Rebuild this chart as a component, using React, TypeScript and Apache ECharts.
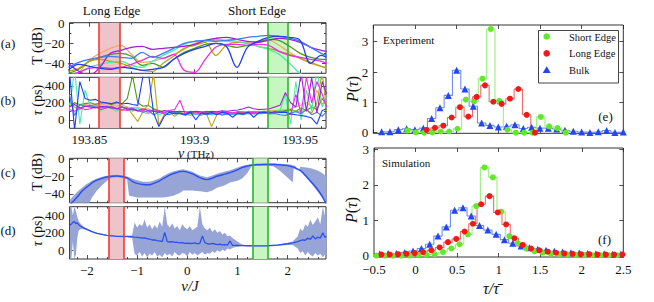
import React, { useEffect, useRef } from "react";
import * as echarts from "echarts";

const FONT = '"Liberation Serif","Times New Roman",serif';

// ---------- (a) transmission vs frequency ----------
const freqA = [193.84, 193.845, 193.85, 193.855, 193.86, 193.865, 193.87, 193.875, 193.88, 193.885, 193.89, 193.895, 193.9, 193.905, 193.91, 193.915, 193.92, 193.925, 193.93, 193.935, 193.94, 193.945, 193.95, 193.955, 193.96, 193.9626];
const tOrange = [-52, -49, -37, -30, -25, -22, -31, -39, -38, -35, -31, -26, -20, -18, -17, -18, -19, -19, -18, -17, -22, -29, -35, -40, -43, -44];
const tGreen = [-50, -46, -38, -34, -31, -30, -33, -42, -40, -44, -36, -29, -25, -21, -20, -22, -24, -22, -19, -16, -17, -23, -30, -34, -36, -36];
const tOlive = [-48, -45, -38, -36, -38, -40, -44, -47, -48, -40, -33, -25, -22, -19, -32, -22, -19, -20, -23, -25, -28, -31, -35, -39, -43, -45];
const tBlue = [-47, -41, -43, -45, -46, -44, -45, -47, -46, -44, -36, -30, -26, -23, -20, -23, -44, -24, -18, -14, -13, -14, -17, -40, -32, -34];
const tSky = [-44, -39, -36, -34, -33, -34, -35, -29, -34, -30, -25, -20, -18, -17, -18, -17, -16, -14, -13, -12, -13, -15, -18, -24, -30, -32];
const tMagenta = [-52, -49, -45, -44, -45, -44, -41, -37, -33, -35, -31, -47, -49, -36, -24, -21, -21, -22, -21, -22, -28, -32, -34, -36, -38, -40];
const tAqua = [-52, -49, -44, -41, -39, -38, -42, -44, -38, -32, -27, -21, -18, -17, -16, -17, -18, -20, -23, -26, -31, -40, -50, -53, -53, -53];
const tPurple = [-40, -48, -52, -44, -30, -27, -24, -23, -26, -25, -24, -23, -21, -17, -15, -14, -16, -18, -19, -17, -15, -16, -19, -24, -27, -28];

// ---------- (b) delay vs frequency ----------
const freqB = [193.8405, 193.843, 193.8455, 193.848, 193.8505, 193.853, 193.8555, 193.858, 193.8605, 193.863, 193.8655, 193.868, 193.8705, 193.873, 193.8755, 193.878, 193.8805, 193.883, 193.8855, 193.888, 193.8905, 193.893, 193.8955, 193.898, 193.9005, 193.903, 193.9055, 193.908, 193.9105, 193.913, 193.9155, 193.918, 193.9205, 193.923, 193.9255, 193.928, 193.9305, 193.933, 193.9355, 193.938, 193.9405, 193.943, 193.9455, 193.948, 193.9505, 193.953, 193.9555, 193.958, 193.9605, 193.9626];
const tauOrange = [180, 200, 170, 180, 170, 190, 180, 170, 180, 160, 175, 150, 140, 150, 120, 130, 100, 110, 90, 95, 85, 90, 80, 85, 90, 80, 85, 90, 85, 80, 90, 85, 90, 95, 90, 100, 95, 100, 105, 110, 115, 120, 130, 150, 170, 200, 160, 350, 180, 200];
const tauGreen = [150, 200, 180, 190, 200, 180, 200, 195, 180, 200, 190, 250, 520, 200, 160, 170, 130, 110, 90, 80, 100, 80, 70, 90, 80, 70, 85, 75, 80, 70, 85, 80, 90, 85, 80, 90, 95, 85, 100, 90, 95, 110, 120, 100, 140, 110, 150, 120, 250, 170];
const tauOlive = [200, 150, 120, 160, 150, 170, 150, 140, 160, 130, 110, 150, 60, -20, 100, 180, 540, -60, 60, 90, 40, 80, 60, 70, 90, 50, 80, -80, 60, 90, 80, 70, 90, 80, 100, 90, 95, 100, 90, 100, 105, 95, 110, 100, 90, 120, 80, 200, 560, 100];
const tauSky = [300, 50, 180, 160, 170, 150, 140, 160, 150, 130, 150, 120, 140, 110, 90, 110, 60, 90, 70, 60, 90, 70, 55, 80, 65, 75, 60, 70, 80, 55, 70, 65, 75, 60, 80, 70, 75, 80, 70, 75, 60, 50, 80, 95, 70, 120, 60, 90, 40, 100];
const tauMagenta = [120, 100, 140, 120, 130, 150, 120, 140, 160, 130, 120, 110, 130, 100, 110, 90, 120, 100, 80, 110, 120, 230, 70, 100, 90, 80, 100, 90, 80, 85, 90, 80, 95, 90, 85, 90, 80, 85, 90, 80, 100, 90, 60, 300, 80, 500, 200, 450, 300, 150];
const tauAqua = [100, 600, -50, 350, 150, 170, 110, 150, 130, 100, 160, 120, 100, 140, 90, 70, 110, 60, 80, 90, 70, 80, 65, 50, 75, 70, 80, 60, 70, 75, 65, 70, 60, 75, 70, 80, 70, 75, 90, 100, 110, 300, -50, 450, 0, 350, 100, 600, 150, 300];
const tauPurple = [150, 180, 140, 160, 150, 140, 160, 150, 140, 130, 150, 130, 120, 110, 130, 110, 100, 90, 110, 100, 95, 100, 95, 90, 100, 95, 90, 100, 95, 105, 100, 110, 115, 130, 150, 130, 120, 125, 130, 150, 170, 320, 200, 150, 550, 100, 500, 80, 450, 300];
const tauBlue = [600, -120, 450, 250, 230, 240, 210, 200, 190, 210, 185, 195, 180, 170, 520, 560, 80, -80, 40, 90, 70, 80, 60, 90, 0, 80, 70, 85, 60, 90, 75, 30, 80, 70, 90, 30, 85, 90, 80, 95, 85, 90, 70, 60, 50, 40, 20, -50, 110, 130];

// ---------- (c) simulated transmission vs nu/J ----------
const nuC = [-2.34, -2.3, -2.2, -2.1, -2.0, -1.95, -1.9, -1.8, -1.7, -1.6, -1.5, -1.4, -1.3, -1.2, -1.16, -1.08, -1.0, -0.88, -0.75, -0.68, -0.55, -0.48, -0.35, -0.28, -0.15, -0.08, 0.09, 0.25, 0.39, 0.5, 0.59, 0.75, 0.85, 1.0, 1.1, 1.2, 1.25, 1.28, 1.38, 1.5, 1.6, 1.71, 1.75, 1.85, 1.95, 2.05, 2.1, 2.12, 2.15, 2.22, 2.25, 2.28, 2.38, 2.48, 2.58, 2.68, 2.77];
const cMean = [-53, -50, -44, -37, -32, -30, -27.5, -24.4, -22.3, -20.7, -19.9, -19.6, -20.2, -21.8, -23, -26.3, -28, -29.3, -29.5, -28.2, -25, -22.5, -18.5, -16.9, -14.6, -14.3, -16.9, -21.4, -23.7, -22, -19.9, -17.5, -15.8, -12.5, -9.8, -8.2, -7.6, -7.3, -6.8, -6.5, -6.4, -6.4, -6.5, -6.9, -7.4, -8.4, -9.2, -9.6, -10.3, -12.2, -13.2, -14.5, -20.7, -27, -33.8, -42, -52];
const cUpper = [-47, -44, -38, -33, -28.5, -27, -25, -22.5, -20.5, -19.2, -18.5, -18.2, -18.8, -20.2, -21, -23, -24.5, -26, -26, -25, -22, -19.5, -16, -14.5, -12.5, -12, -14.5, -19, -21, -19, -17, -14.5, -13, -10, -8, -6.8, -6.2, -5.8, -5.4, -5.2, -5.1, -5.1, -5.2, -5.5, -5.9, -6.6, -7.2, -7.5, -8, -14, -9, -9.3, -10, -11, -13, -16, -20];
const cLower = [-55, -55, -55, -55, -55, -55, -44, -36, -30, -25, -21.5, -21, -21.8, -23.5, -42, -43, -44, -44, -44, -44, -44, -44, -43, -42, -39, -36, -36, -37, -38, -36, -33, -30, -27, -25, -22, -16, -11, -8.5, -8, -7.8, -7.8, -8.5, -10, -14, -19, -24, -27, -11, -11.8, -13.5, -14.5, -16, -22, -29, -36, -44, -54];

// ---------- (d) simulated delay vs nu/J ----------
const nuD = [-2.34, -2.31, -2.28, -2.25, -2.22, -2.19, -2.16, -2.12, -2.06, -2.0, -1.9, -1.8, -1.6, -1.4, -1.2, -1.1,
  -1.05, -1.0, -0.95, -0.9, -0.85, -0.8, -0.75, -0.7, -0.65, -0.6, -0.55, -0.5, -0.45, -0.4, -0.35, -0.3, -0.25, -0.2, -0.15, -0.1, -0.05, 0, 0.05, 0.1, 0.15, 0.2, 0.25, 0.3, 0.35, 0.4, 0.45, 0.5, 0.55, 0.6, 0.65, 0.7, 0.75, 0.8, 0.85, 0.9, 0.95, 1.0, 1.05, 1.1,
  1.2, 1.4, 1.6, 1.8, 2.0, 2.1, 2.2, 2.25, 2.3, 2.35, 2.4, 2.45, 2.5, 2.55, 2.6, 2.65, 2.7, 2.74, 2.77];
const dMean = [290, 300, 320, 330, 305, 315, 290, 275, 255, 240, 215, 195, 170, 160, 158, 155,
  150, 148, 145, 140, 142, 135, 128, 118, 120, 112, 108, 100, 205, 100, 95, 98, 90, 92, 85, 88, 80, 82, 78, 80, 86, 75, 80, 165, 88, 75, 70, 78, 72, 65, 70, 62, 66, 60, 105, 58, 56, 55, 54, 53,
  52, 50, 52, 60, 75, 85, 100, 110, 120, 115, 140, 125, 165, 130, 150, 140, 200, 150, 160];
const dUpper = [520, 520, 400, 520, 450, 380, 330, 300, 270, 250, 222, 200, 175, 165, 163, 170,
  320, 260, 300, 280, 350, 260, 300, 240, 290, 250, 330, 270, 520, 300, 260, 310, 250, 280, 230, 300, 260, 240, 280, 230, 250, 270, 520, 300, 250, 230, 260, 210, 240, 200, 220, 180, 200, 160, 170, 140, 120, 100, 80, 65,
  58, 55, 57, 66, 85, 100, 160, 250, 220, 300, 270, 350, 290, 330, 380, 300, 520, 400, 520];
const dLower = [-110, -110, 100, -110, -50, 150, 230, 245, 240, 230, 208, 190, 165, 155, 152, 140,
  -40, -60, -20, -70, -30, -80, -40, -60, -20, -70, -50, -80, -30, -60, -40, -70, -20, -50, -60, -30, -40, -70, -20, -50, -30, -60, -40, -20, -50, -30, -40, -10, -30, 0, -20, 10, -10, 20, 10, 25, 35, 40, 45, 48,
  47, 45, 47, 52, 62, 60, 20, -30, -10, -60, -20, -50, -70, -30, -60, -40, -80, -50, -70];

// ---------- edge windows ----------
const longEdgeTHz = [193.8547, 193.8646];
const shortEdgeTHz = [193.9347, 193.9443];
const longEdgeNu = [-1.56, -1.26];
const shortEdgeNu = [1.31, 1.61];

// ---------- (e) experiment histograms ----------
const expBulkX = [-0.4, -0.3, -0.2, -0.1, 0, 0.1, 0.2, 0.3, 0.4, 0.5, 0.6, 0.7, 0.8, 0.9, 1.0, 1.1, 1.2, 1.3, 1.4, 1.5, 1.6, 1.7, 1.8, 1.9, 2.0, 2.1, 2.2, 2.3, 2.4, 2.5];
const expBulkY = [0.03, 0.03, 0.1, 0.13, 0.1, 0.15, 0.47, 0.82, 1.23, 2.06, 1.44, 0.87, 0.32, 0.24, 0.19, 0.21, 0.26, 0.14, 0.18, 0.15, 0.15, 0.12, 0.08, 0.05, 0.02, 0.01, 0.03, 0.07, 0.01, 0.02];
const expLongX = [0.14, 0.24, 0.34, 0.44, 0.54, 0.64, 0.74, 0.84, 0.94, 1.04, 1.14, 1.24, 1.34, 1.44];
const expLongY = [0.09, 0.16, 0.23, 0.5, 0.84, 0.53, 1.18, 1.56, 1.02, 0.95, 1.12, 1.44, 0.59, 0];
const expShortX = [-0.09, 0.01, 0.11, 0.21, 0.31, 0.41, 0.51, 0.61, 0.71, 0.81, 0.91, 1.01, 1.11, 1.21, 1.31, 1.41, 1.51, 1.61, 1.71, 1.81];
const expShortY = [0.07, 0.01, 0, 0.01, 0.04, 0.04, 0.13, 1.09, 1.03, 1.78, 3.42, 1.05, 0.1, 0, 0, 0, 0.52, 0.21, 0.15, 0];

// ---------- (f) simulation histograms ----------
const simBulkX = [-0.43, -0.33, -0.23, -0.13, -0.03, 0.07, 0.17, 0.27, 0.37, 0.47, 0.57, 0.67, 0.77, 0.87, 0.97, 1.07, 1.17, 1.27, 1.37, 1.47, 1.57, 1.67, 1.77, 1.87, 1.97, 2.07, 2.17, 2.27, 2.37, 2.47];
const simBulkY = [0.05, 0.06, 0.06, 0.09, 0.13, 0.2, 0.32, 0.55, 0.81, 1.28, 1.35, 1.12, 0.85, 0.72, 0.6, 0.45, 0.35, 0.27, 0.22, 0.18, 0.15, 0.12, 0.1, 0.08, 0.07, 0.06, 0.05, 0.05, 0.04, 0.04];
const simLongX = [-0.41, -0.31, -0.21, -0.11, -0.01, 0.09, 0.19, 0.29, 0.39, 0.49, 0.59, 0.69, 0.79, 0.89, 0.99, 1.09, 1.19, 1.29, 1.39, 1.49, 1.59, 1.69, 1.79, 1.89, 1.99, 2.09, 2.19, 2.29, 2.39, 2.49];
const simLongY = [0.03, 0.03, 0.04, 0.05, 0.07, 0.1, 0.15, 0.23, 0.38, 0.47, 0.68, 0.9, 1.45, 1.68, 1.22, 0.88, 0.49, 0.3, 0.2, 0.15, 0.11, 0.08, 0.06, 0.05, 0.04, 0.04, 0.03, 0.03, 0.03, 0.03];
const simShortX = [-0.47, -0.37, -0.27, -0.17, -0.07, 0.03, 0.13, 0.23, 0.33, 0.43, 0.53, 0.63, 0.73, 0.83, 0.93, 1.03, 1.13, 1.23, 1.33, 1.43, 1.53, 1.63, 1.73, 1.83, 1.93, 2.03, 2.13, 2.23, 2.33, 2.43];
const simShortY = [0, 0, 0, 0, 0, 0.01, 0.02, 0.04, 0.1, 0.2, 0.32, 0.6, 1.4, 2.49, 2.21, 1.24, 0.55, 0.35, 0.2, 0.12, 0.08, 0.05, 0.04, 0.03, 0.02, 0.02, 0.01, 0.01, 0.01, 0.01];

// ---------- tick values ----------
const thzMajor = [193.85, 193.9, 193.95];
const thzMinor = [193.84, 193.86, 193.87, 193.88, 193.89, 193.91, 193.92, 193.93, 193.94, 193.96];
const nuMajor = [-2, -1, 0, 1, 2];
const nuMinor = [-2.2, -1.8, -1.6, -1.4, -1.2, -0.8, -0.6, -0.4, -0.2, 0.2, 0.4, 0.6, 0.8, 1.2, 1.4, 1.6, 1.8, 2.2, 2.4, 2.6];
const dbMajor = [0, -20, -40];
const dbMinor = [-10, -30];
const psMajor = [0, 200, 400];
const psMinor = [100, 300];
const ratioMajor = [-0.5, 0, 0.5, 1, 1.5, 2, 2.5];
const probMajor = [0, 1, 2, 3];

const C = {
  orange: "#f5a86a", green: "#4e9a1c", olive: "#b5a516", blue: "#1f3ff0",
  sky: "#3f7cf5", magenta: "#ee2be8", aqua: "#45eda5", purple: "#9d22d6",
};

function fmtNum(v: number): string {
  const r = Math.round(v * 1000) / 1000;
  const s = String(Math.abs(r));
  return r < 0 ? "\u2212" + s : s;
}

function buildOption() {
  const gridBoxes = [
    { left: 69.5, top: 22.7, width: 256.5, height: 50.6 },
    { left: 69.5, top: 77.3, width: 256.5, height: 51 },
    { left: 69.5, top: 158.3, width: 256.5, height: 44.4 },
    { left: 69.5, top: 206.7, width: 256.5, height: 52.3 },
    { left: 373.3, top: 25, width: 250, height: 108.3 },
    { left: 374, top: 148, width: 249.3, height: 109 },
  ];
  const grid = gridBoxes.map((g) => ({
    ...g, show: true, borderColor: "#333", borderWidth: 1, backgroundColor: "transparent",
    containLabel: false, outerBoundsMode: "none",
  }));

  const xAxis: any[] = [];
  const yAxis: any[] = [];
  const tick = (vals: number[], len: number) => ({
    show: true, inside: true, length: len, customValues: vals,
    lineStyle: { color: "#222", width: 0.8 },
  });
  const label = (vals: number[], margin: number) => ({
    show: true, customValues: vals, formatter: (v: number) => fmtNum(v),
    showMinLabel: true, showMaxLabel: true, hideOverlap: false,
    fontFamily: FONT, fontSize: 13, color: "#111", margin,
  });

  function frame(gi: number, xr: number[], yr: number[], xMaj: number[], xMin: number[], yMaj: number[], yMin: number[], xLab: boolean, xMargin = 5) {
    const base = (min: number, max: number) => ({
      type: "value", gridIndex: gi, min, max, splitLine: { show: false },
      axisLine: { show: false, onZero: false },
    });
    const xi = xAxis.length;
    xAxis.push({ ...base(xr[0], xr[1]), position: "bottom", axisTick: tick(xMaj, 4), axisLabel: xLab ? label(xMaj, xMargin) : { show: false } });
    xAxis.push({ ...base(xr[0], xr[1]), position: "top", axisTick: tick(xMaj, 4), axisLabel: { show: false } });
    if (xMin.length) {
      xAxis.push({ ...base(xr[0], xr[1]), position: "bottom", axisTick: tick(xMin, 2), axisLabel: { show: false } });
      xAxis.push({ ...base(xr[0], xr[1]), position: "top", axisTick: tick(xMin, 2), axisLabel: { show: false } });
    }
    const yi = yAxis.length;
    yAxis.push({ ...base(yr[0], yr[1]), position: "left", axisTick: tick(yMaj, 4), axisLabel: label(yMaj, 5) });
    yAxis.push({ ...base(yr[0], yr[1]), position: "right", axisTick: tick(yMaj, 4), axisLabel: { show: false } });
    if (yMin.length) {
      yAxis.push({ ...base(yr[0], yr[1]), position: "left", axisTick: tick(yMin, 2), axisLabel: { show: false } });
      yAxis.push({ ...base(yr[0], yr[1]), position: "right", axisTick: tick(yMin, 2), axisLabel: { show: false } });
    }
    return [xi, yi];
  }

  const thzRange = [193.8406, 193.9623];
  const nuRange = [-2.347, 2.763];
  const dbRange = [-50, 0.6];
  const psRange = [-100, 500];
  const ratioRange = [-0.5, 2.5];

  const [xa, ya] = frame(0, thzRange, dbRange, thzMajor, thzMinor, dbMajor, dbMinor, false);
  const [xb, yb] = frame(1, thzRange, psRange, thzMajor, thzMinor, psMajor, psMinor, true);
  const [xc, yc] = frame(2, nuRange, dbRange, nuMajor, nuMinor, dbMajor, dbMinor, false);
  const [xd, yd] = frame(3, nuRange, psRange, nuMajor, nuMinor, psMajor, psMinor, true);
  const [xe, ye] = frame(4, ratioRange, [-0.02, 3.55], ratioMajor, [], probMajor, [], false);
  const [xf, yf] = frame(5, ratioRange, [-0.04, 3.04], ratioMajor, [], probMajor, [], true, 6);

  const series: any[] = [];

  function edges(xi: number, yi: number, longR: number[], shortR: number[], anchor: number[]) {
    series.push({
      type: "line", xAxisIndex: xi, yAxisIndex: yi, data: [anchor], symbol: "none",
      lineStyle: { opacity: 0 }, z: 0, silent: true,
      markArea: {
        silent: true,
        data: [
          [{ xAxis: longR[0], itemStyle: { color: "#efc3ca" } }, { xAxis: longR[1] }],
          [{ xAxis: shortR[0], itemStyle: { color: "#c6f7c0" } }, { xAxis: shortR[1] }],
        ],
      },
    });
    const red = { color: "#f03a3a", width: 1.6, type: "solid" };
    const grn = { color: "#2cb52c", width: 1.6, type: "solid" };
    series.push({
      type: "line", xAxisIndex: xi, yAxisIndex: yi, data: [anchor], symbol: "none",
      lineStyle: { opacity: 0 }, z: 6, silent: true,
      markLine: {
        silent: true, precision: 6, symbol: ["none", "none"], label: { show: false },
        lineStyle: { width: 1.6, type: "solid" },
        data: [
          { xAxis: longR[0], lineStyle: red },
          { xAxis: longR[1], lineStyle: red },
          { xAxis: shortR[0], lineStyle: grn },
          { xAxis: shortR[1], lineStyle: grn },
        ],
      },
    });
  }

  edges(xa, ya, longEdgeTHz, shortEdgeTHz, [thzRange[0], -50]);
  edges(xb, yb, longEdgeTHz, shortEdgeTHz, [thzRange[0], -100]);
  edges(xc, yc, longEdgeNu, shortEdgeNu, [nuRange[0], -50]);
  edges(xd, yd, longEdgeNu, shortEdgeNu, [nuRange[0], -100]);

  const tLines: [number[], string][] = [
    [tOrange, C.orange], [tGreen, C.green], [tOlive, C.olive], [tAqua, C.aqua],
    [tMagenta, C.magenta], [tPurple, C.purple], [tSky, C.sky], [tBlue, C.blue],
  ];
  tLines.forEach(([vals, color]) => {
    series.push({
      type: "line", xAxisIndex: xa, yAxisIndex: ya, data: freqA.map((f, i) => [f, vals[i]]),
      symbol: "none", smooth: 0.35, lineStyle: { color, width: 1.3 }, z: 2, silent: true,
    });
  });

  const tauLines: [number[], string][] = [
    [tauOrange, C.orange], [tauGreen, C.green], [tauOlive, C.olive], [tauAqua, C.aqua],
    [tauSky, C.sky], [tauMagenta, C.magenta], [tauPurple, C.purple], [tauBlue, C.blue],
  ];
  tauLines.forEach(([vals, color]) => {
    series.push({
      type: "line", xAxisIndex: xb, yAxisIndex: yb, data: freqB.map((f, i) => [f, vals[i]]),
      symbol: "none", lineStyle: { color, width: 1.1 }, z: 2, silent: true,
    });
  });

  function band(xi: number, yi: number, xs: number[], lo: number[], hi: number[], yr: number[]) {
    series.push({
      type: "custom", xAxisIndex: xi, yAxisIndex: yi, data: [[xs[0], lo[0]]], z: 1, silent: true,
      renderItem: (_params: any, api: any) => {
        const cl = (v: number) => Math.max(yr[0], Math.min(yr[1], v));
        const pts: number[][] = [];
        for (let i = 0; i < xs.length; i++) pts.push(api.coord([xs[i], cl(hi[i])]));
        for (let i = xs.length - 1; i >= 0; i--) pts.push(api.coord([xs[i], cl(lo[i])]));
        return { type: "polygon", shape: { points: pts }, style: { fill: "#96a5d6", stroke: "none" } };
      },
    });
  }
  band(xc, yc, nuC, cLower, cUpper, dbRange);
  band(xd, yd, nuD, dLower, dUpper, psRange);
  series.push({
    type: "line", xAxisIndex: xc, yAxisIndex: yc, data: nuC.map((x, i) => [x, cMean[i]]),
    symbol: "none", smooth: 0.3, lineStyle: { color: "#2c4ff0", width: 1.4 }, z: 3, silent: true,
  });
  series.push({
    type: "line", xAxisIndex: xd, yAxisIndex: yd, data: nuD.map((x, i) => [x, dMean[i]]),
    symbol: "none", lineStyle: { color: "#2c4ff0", width: 1.3 }, z: 3, silent: true,
  });

  const MK = { green: "#62e82a", red: "#f21818", blue: "#2446f2" };
  const LN = { green: "#9bf07a", red: "#f26a6a", blue: "#6f8ef2" };
  function hist(xi: number, yi: number, xs: number[], ys: number[], name: string, sym: string, size: number, mc: string, lc: string) {
    series.push({
      type: "line", name, xAxisIndex: xi, yAxisIndex: yi, step: "middle",
      data: xs.map((x, i) => [x, ys[i]]), symbol: sym, symbolSize: size, showSymbol: true,
      itemStyle: { color: mc }, lineStyle: { color: lc, width: 1.1 }, z: 3, silent: true,
    });
  }
  hist(xe, ye, expBulkX, expBulkY, "Bulk", "triangle", 7, MK.blue, LN.blue);
  hist(xe, ye, expShortX, expShortY, "Short Edge", "circle", 6, MK.green, LN.green);
  hist(xe, ye, expLongX, expLongY, "Long Edge", "circle", 6, MK.red, LN.red);
  hist(xf, yf, simBulkX, simBulkY, "Bulk", "triangle", 7, MK.blue, LN.blue);
  hist(xf, yf, simShortX, simShortY, "Short Edge", "circle", 6, MK.green, LN.green);
  hist(xf, yf, simLongX, simLongY, "Long Edge", "circle", 6, MK.red, LN.red);

  const text = (x: number, y: number, t: string, size: number, opts: any = {}) => ({
    type: "text", x, y, z: 100, rotation: opts.rotation || 0, silent: true,
    style: {
      text: t, fontFamily: FONT, fontSize: size, fill: "#111",
      fontStyle: opts.italic ? "italic" : "normal",
      align: opts.align || "center", textAlign: opts.align || "center",
      verticalAlign: "middle", textVerticalAlign: "middle",
      rich: opts.rich,
    },
  });
  const richI = (size: number) => ({ i: { fontStyle: "italic", fontFamily: FONT, fontSize: size, fill: "#111" }, n: { fontFamily: FONT, fontSize: size, fill: "#111" } });

  const graphic: any[] = [
    text(111.5, 10, "Long Edge", 13),
    text(257, 10, "Short Edge", 13),
    text(8, 43, "(a)", 13), text(8, 100, "(b)", 13), text(8, 172, "(c)", 13), text(8, 230, "(d)", 13),
    text(37, 46, "T (dB)", 14, { rotation: Math.PI / 2 }),
    text(37, 100, "{i|τ}{n| (ps)}", 14, { rotation: Math.PI / 2, rich: richI(14) }),
    text(37, 172, "T (dB)", 14, { rotation: Math.PI / 2 }),
    text(37, 231, "{i|τ}{n| (ps)}", 14, { rotation: Math.PI / 2, rich: richI(14) }),
    text(196, 153.5, "{i|ν}{s| (THz)}", 13, { rich: { i: { fontStyle: "italic", fontFamily: FONT, fontSize: 14, fill: "#111" }, s: { fontFamily: FONT, fontSize: 11, fill: "#111" } } }),
    text(190, 286, "ν/J", 15, { italic: true }),
    text(352, 89, "{i|P}{n|(}{i|τ}{n|)}", 16, { rotation: Math.PI / 2, rich: richI(16) }),
    text(351, 210, "{i|P}{n|(}{i|τ}{n|)}", 16, { rotation: Math.PI / 2, rich: richI(16) }),
    text(491, 288, "τ/τ\u0304", 16, { italic: true }),
    text(383, 40, "Experiment", 11, { align: "left" }),
    text(382, 163, "Simulation", 11, { align: "left" }),
    text(605.5, 116, "(e)", 13),
    text(604.5, 239, "(f)", 13),
    // legend of (e)
    { type: "rect", z: 99, silent: true, shape: { x: 538.5, y: 30.5, width: 80, height: 52.5 }, style: { fill: "#fff", stroke: "#444", lineWidth: 1 } },
    { type: "circle", z: 100, silent: true, shape: { cx: 546.7, cy: 36.5, r: 3.3 }, style: { fill: MK.green } },
    { type: "circle", z: 100, silent: true, shape: { cx: 546.7, cy: 53.3, r: 3.3 }, style: { fill: MK.red } },
    { type: "polygon", z: 100, silent: true, shape: { points: [[546.7, 66.3], [550.7, 73], [542.7, 73]] }, style: { fill: MK.blue } },
    text(569, 37, "Short Edge", 10.5, { align: "left" }),
    text(569, 53.5, "Long Edge", 10.5, { align: "left" }),
    text(569, 70, "Bulk", 10.5, { align: "left" }),
  ];

  return { animation: false, backgroundColor: "#fff", grid, xAxis, yAxis, series, graphic };
}

export default function App() {
  const ref = useRef<HTMLDivElement>(null);
  useEffect(() => {
    if (!ref.current) return;
    const chart = echarts.init(ref.current, null, { renderer: "svg" });
    chart.setOption(buildOption() as any);
    return () => chart.dispose();
  }, []);
  return <div ref={ref} style={{ position: "fixed", left: 0, top: 0, width: 654, height: 302, background: "#fff" }} />;
}
